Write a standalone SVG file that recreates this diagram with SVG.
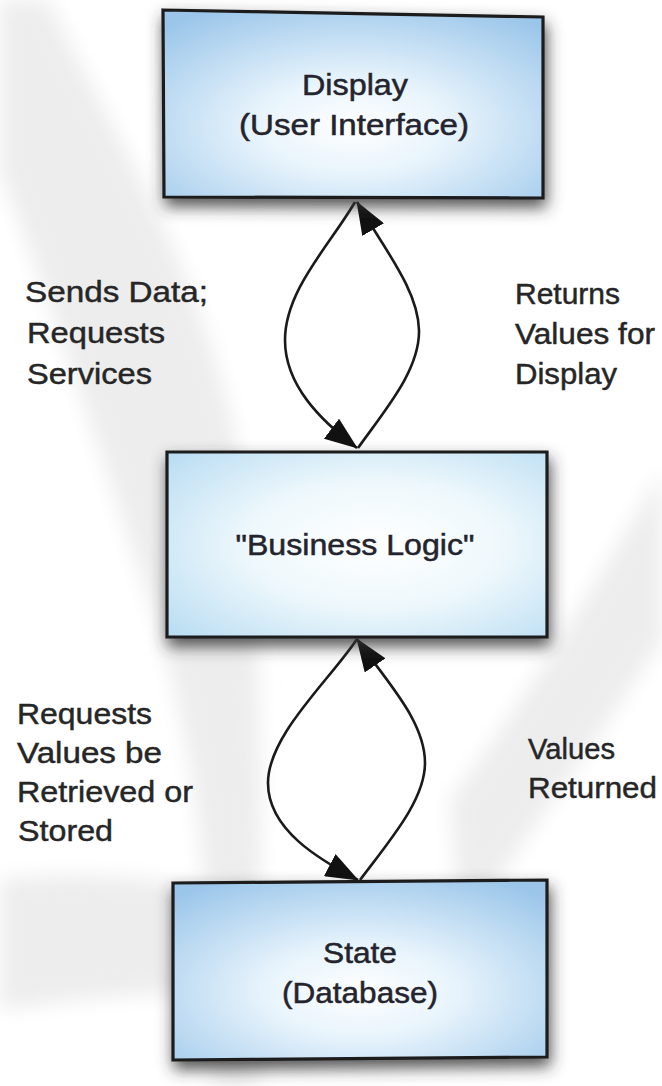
<svg xmlns="http://www.w3.org/2000/svg" width="662" height="1086" viewBox="0 0 662 1086">
  <defs>
    <style>
      .box { stroke: #1c1c1e; stroke-width: 3.2; stroke-linejoin: miter; }
      .boxtext { font-family: "Liberation Sans", Arial, sans-serif; font-size: 29px; fill: #24242e; stroke: #24242e; stroke-width: 0.5; text-anchor: middle; }
      .label { font-family: "Liberation Sans", Arial, sans-serif; font-size: 29px; fill: #262626; stroke: #262626; stroke-width: 0.45; }
      .flow { fill: none; stroke: #1a1a1a; stroke-width: 2.6; marker-end: url(#head); }
      .band { fill: #ededed; }
    </style>
    <radialGradient id="fillBlue" cx="50%" cy="62%" r="72%">
      <stop offset="0" stop-color="#ffffff"/>
      <stop offset="0.35" stop-color="#e8f4fc"/>
      <stop offset="1" stop-color="#9bc6ea"/>
    </radialGradient>
    <radialGradient id="fillPale" cx="55%" cy="50%" r="75%">
      <stop offset="0" stop-color="#ffffff"/>
      <stop offset="0.45" stop-color="#eef8fc"/>
      <stop offset="1" stop-color="#b6dbf2"/>
    </radialGradient>
    <filter id="halo" x="-15%" y="-25%" width="130%" height="160%">
      <feGaussianBlur in="SourceAlpha" stdDeviation="8"/>
      <feOffset dx="2" dy="8" result="b"/>
      <feFlood flood-color="#333333" flood-opacity="0.85"/>
      <feComposite in2="b" operator="in"/>
      <feMerge>
        <feMergeNode/>
        <feMergeNode in="SourceGraphic"/>
      </feMerge>
    </filter>
    <filter id="soft" x="-20%" y="-20%" width="140%" height="140%">
      <feGaussianBlur stdDeviation="10"/>
    </filter>
    <marker id="head" markerUnits="userSpaceOnUse" markerWidth="33" markerHeight="25" refX="32" refY="12.5" orient="auto">
      <path d="M0,0 L33,12.5 L0,25 Z" fill="#111"/>
    </marker>
  </defs>

  <!-- paper background with faint printed swooshes -->
  <rect width="662" height="1086" fill="#ffffff"/>
  <g id="background" filter="url(#soft)">
    <path class="band" d="M0,0 L48,0 C120,150 225,300 248,520 C262,650 262,800 258,1086 L212,1086 C212,900 198,750 150,600 C110,480 60,330 0,170 Z"/>
    <path class="band" d="M0,880 C80,870 160,878 240,895 L240,995 C160,990 80,998 0,1010 Z"/>
    <path class="band" d="M662,470 C610,560 540,680 450,800 L460,930 C540,820 610,720 662,640 Z"/>
  </g>

  <!-- connectors -->
  <g id="connectors">
    <path class="flow" d="M355,202 C330,245 285,290 285,340 C285,385 320,420 357,448"/>
    <path class="flow" d="M358,448 C385,410 420,370 419,330 C418,290 385,250 357,202"/>
    <path class="flow" d="M357,639 C330,680 268,735 268,783 C268,830 320,860 358,880"/>
    <path class="flow" d="M360,880 C390,840 425,800 425,763 C425,720 385,680 357,639"/>
  </g>

  <!-- nodes -->
  <g id="display">
    <path class="box" filter="url(#halo)" fill="url(#fillBlue)" d="M163,10 L543,17 L543,198 L164,197 Z"/>
    <text class="boxtext" x="355" y="95" textLength="106" lengthAdjust="spacingAndGlyphs">Display</text>
    <text class="boxtext" x="354" y="135" textLength="230" lengthAdjust="spacingAndGlyphs">(User Interface)</text>
  </g>

  <g id="business-logic">
    <path class="box" filter="url(#halo)" fill="url(#fillPale)" d="M167,452 L547,452 L547,637 L167,637 Z"/>
    <text class="boxtext" x="355" y="555" textLength="239" lengthAdjust="spacingAndGlyphs">"Business Logic"</text>
  </g>

  <g id="state">
    <path class="box" filter="url(#halo)" fill="url(#fillBlue)" d="M173,883 L547,880 L547,1057 L173,1060 Z"/>
    <text class="boxtext" x="360" y="963" textLength="74" lengthAdjust="spacingAndGlyphs">State</text>
    <text class="boxtext" x="360" y="1003" textLength="156" lengthAdjust="spacingAndGlyphs">(Database)</text>
  </g>

  <!-- connector labels -->
  <g id="label-sends">
    <text class="label" x="25" y="302" textLength="183" lengthAdjust="spacingAndGlyphs">Sends Data;</text>
    <text class="label" x="27" y="343" textLength="138" lengthAdjust="spacingAndGlyphs">Requests</text>
    <text class="label" x="27" y="384" textLength="125" lengthAdjust="spacingAndGlyphs">Services</text>
  </g>
  <g id="label-returns">
    <text class="label" x="515" y="304" textLength="105" lengthAdjust="spacingAndGlyphs">Returns</text>
    <text class="label" x="515" y="344" textLength="140" lengthAdjust="spacingAndGlyphs">Values for</text>
    <text class="label" x="515" y="384" textLength="102" lengthAdjust="spacingAndGlyphs">Display</text>
  </g>
  <g id="label-requests">
    <text class="label" x="17" y="724" textLength="135" lengthAdjust="spacingAndGlyphs">Requests</text>
    <text class="label" x="17" y="763" textLength="145" lengthAdjust="spacingAndGlyphs">Values be</text>
    <text class="label" x="17" y="802" textLength="176" lengthAdjust="spacingAndGlyphs">Retrieved or</text>
    <text class="label" x="18" y="841" textLength="95" lengthAdjust="spacingAndGlyphs">Stored</text>
  </g>
  <g id="label-values-returned">
    <text class="label" x="528" y="759" textLength="87" lengthAdjust="spacingAndGlyphs">Values</text>
    <text class="label" x="528" y="798" textLength="129" lengthAdjust="spacingAndGlyphs">Returned</text>
  </g>
</svg>
